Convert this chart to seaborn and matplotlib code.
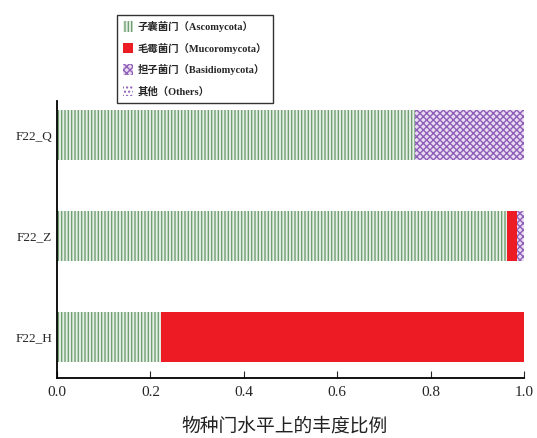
import numpy as np
import pandas as pd
import matplotlib
matplotlib.use("Agg")
import matplotlib.pyplot as plt
import matplotlib.patches as mpatches
import seaborn as sns

#datos
muestras = ["F22_Q", "F22_Z", "F22_H"]
ascomycota = [0.767, 0.963, 0.223]
mucoromycota = [0.0, 0.022, 0.777]
basidiomycota = [0.233, 0.015, 0.0]
otros = [0.0, 0.0, 0.0]

etiquetas = ["子囊菌门（Ascomycota）", "毛霉菌门（Mucoromycota）",
             "担子菌门（Basidiomycota）", "其他（Others）"]
xticks = [0.0, 0.2, 0.4, 0.6, 0.8, 1.0]

sns.set_style("ticks")
plt.rcParams["font.family"] = ["Liberation Serif", "Noto Sans CJK SC", "DejaVu Sans"]
plt.rcParams["hatch.linewidth"] = 1.0

df = pd.DataFrame({
    "muestra": muestras,
    "asco": ascomycota,
    "muco": mucoromycota,
    "basi": basidiomycota,
    "otros": otros,
})
#acumulados para apilar
df["c1"] = df["asco"]
df["c2"] = df["c1"] + df["muco"]
df["c3"] = df["c2"] + df["basi"]
df["c4"] = df["c3"] + df["otros"]

estilos = [
    dict(facecolor="#e6efe6", edgecolor="#6f9f72", hatch="|||||"),
    dict(facecolor="#ed1c24", edgecolor="#ed1c24", hatch=None),
    dict(facecolor="#e9dcf2", edgecolor="#8e5db8", hatch="xxxxx"),
    dict(facecolor="#ffffff", edgecolor="#8e5db8", hatch="...."),
]

fig = plt.figure(figsize=(5.37, 4.38), dpi=100)
ax = fig.add_axes([57/537, 1-378/438, 467/537, (378-101)/438])

#se dibuja del acumulado mayor al menor
for col, est in zip(["c4", "c3", "c2", "c1"], estilos[::-1]):
    sns.barplot(data=df, x=col, y="muestra", order=muestras, orient="h",
                width=0.5, saturation=1, color=est["facecolor"],
                edgecolor=est["edgecolor"], hatch=est["hatch"], linewidth=0, ax=ax)

ax.set_xlim(0, 1.0)
ax.set_ylim(2.41, -0.34)
ax.set_xticks(xticks)
ax.set_xticklabels([f"{t:.1f}" for t in xticks])
ax.set_ylabel("")
ax.set_xlabel("")
ax.tick_params(axis="x", direction="in", length=5, labelsize=11, pad=6)
ax.tick_params(axis="y", direction="in", length=4, labelsize=9.5)
for s in ["top", "right"]:
    ax.spines[s].set_visible(False)
for s in ["left", "bottom"]:
    ax.spines[s].set_color("black")
    ax.spines[s].set_linewidth(1.3)

#titulo inferior
fig.text(285/537, 1-427/438, "物种门水平上的丰度比例", fontsize=13.5,
         ha="center", va="center", color="#222222")

handles = [mpatches.Patch(facecolor=e["facecolor"], edgecolor=e["edgecolor"],
                          hatch=e["hatch"], linewidth=0, label=l)
           for e, l in zip(estilos, etiquetas)]
leg = fig.legend(handles=handles, loc="upper left",
                 bbox_to_anchor=(117/537, 1-15/438), frameon=True,
                 fancybox=False, edgecolor="black", fontsize=7.5,
                 handlelength=0.9, handleheight=1.2, labelspacing=1.0,
                 borderpad=0.6, handletextpad=0.5, borderaxespad=0)
leg.get_frame().set_linewidth(1.0)
for t in leg.get_texts():
    t.set_fontweight("bold")

fig.savefig("out.png", dpi=100)
